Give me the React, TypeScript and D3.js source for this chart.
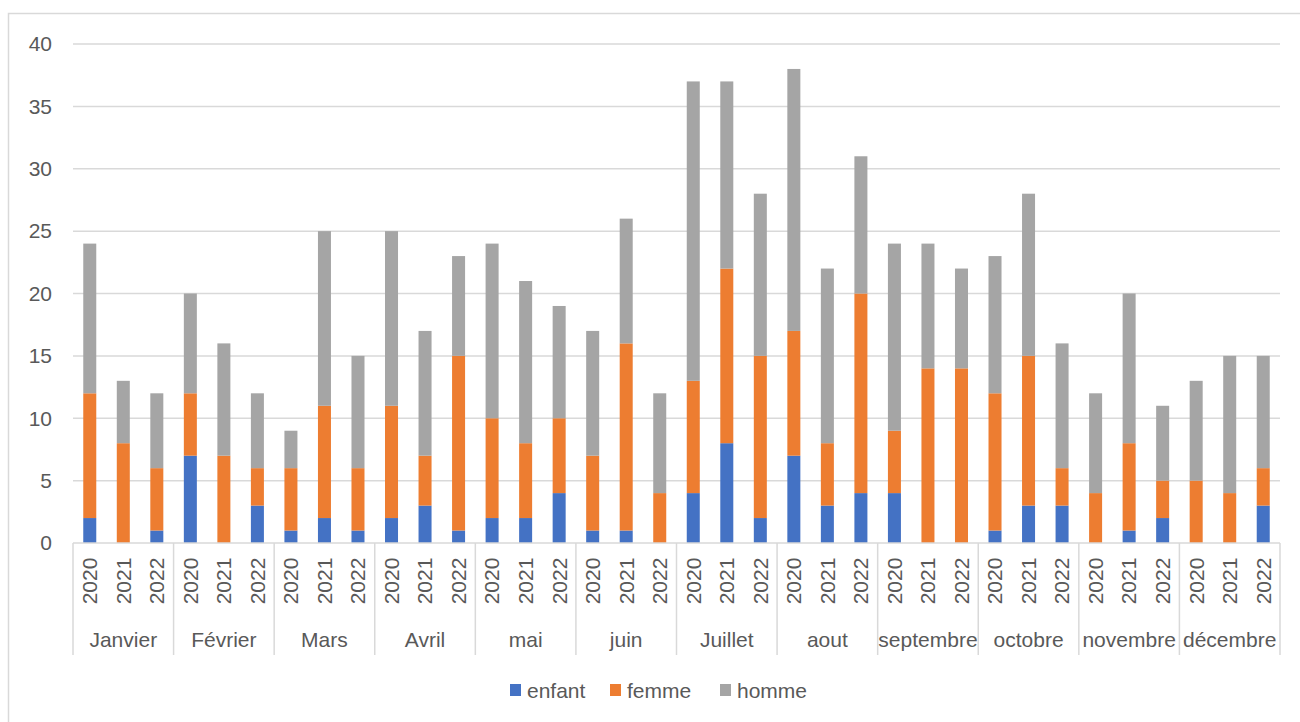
import { useMemo } from 'react'
import * as d3 from 'd3'

// Categories
const months = ['Janvier', 'Février', 'Mars', 'Avril', 'mai', 'juin', 'Juillet', 'aout', 'septembre', 'octobre', 'novembre', 'décembre']
const years = ['2020', '2021', '2022']

// Series values, month by month, 2020 / 2021 / 2022
const enfant = [2, 0, 1, 7, 0, 3, 1, 2, 1, 2, 3, 1, 2, 2, 4, 1, 1, 0, 4, 8, 2, 7, 3, 4, 4, 0, 0, 1, 3, 3, 0, 1, 2, 0, 0, 3]
const femme = [10, 8, 5, 5, 7, 3, 5, 9, 5, 9, 4, 14, 8, 6, 6, 6, 15, 4, 9, 14, 13, 10, 5, 16, 5, 14, 14, 11, 12, 3, 4, 7, 3, 5, 4, 3]
const homme = [12, 5, 6, 8, 9, 6, 3, 14, 9, 14, 10, 8, 14, 13, 9, 10, 10, 8, 24, 15, 13, 21, 14, 11, 15, 10, 8, 11, 13, 10, 8, 12, 6, 8, 11, 9]

const seriesNames = ['enfant', 'femme', 'homme']
const yTicks = [0, 5, 10, 15, 20, 25, 30, 35, 40]

const colors: Record<string, string> = {
  enfant: '#4472C4',
  femme: '#ED7D31',
  homme: '#A5A5A5',
}

const width = 1300
const height = 722
const left = 73
const right = 1280
const top = 44
const bottom = 543
const font = '"Liberation Sans", Arial, sans-serif'
const textColor = '#595959'
const gridColor = '#D9D9D9'

interface Row {
  month: string
  year: string
  enfant: number
  femme: number
  homme: number
}

export default function App() {
  const rows: Row[] = useMemo(() => {
    const out: Row[] = []
    months.forEach((m, i) => {
      years.forEach((yr, j) => {
        const k = i * 3 + j
        out.push({ month: m, year: yr, enfant: enfant[k], femme: femme[k], homme: homme[k] })
      })
    })
    return out
  }, [])

  const x0 = d3.scaleBand().domain(months).range([left, right]).padding(0)
  const x1 = d3.scaleBand().domain(years).range([0, x0.bandwidth()]).paddingInner(0.612).paddingOuter(0.306)
  const y = d3.scaleLinear().domain([0, 40]).range([bottom, top])

  const stacked = d3.stack<Row>().keys(seriesNames)(rows)

  const legend = [
    { name: 'enfant', x: 510 },
    { name: 'femme', x: 610 },
    { name: 'homme', x: 720 },
  ]

  return (
    <svg width={width} height={height} style={{ position: 'absolute', left: 0, top: 0, background: '#fff' }}>
      <rect x={8.5} y={13.5} width={1400} height={800} fill="#fff" stroke={gridColor} strokeWidth={1.5} />

      {/* gridlines */}
      {yTicks.map(t => (
        <g key={t}>
          {t > 0 && (
            <line x1={left} x2={right} y1={y(t)} y2={y(t)} stroke={gridColor} strokeWidth={1.5} />
          )}
          <text x={52} y={y(t)} dy="0.35em" textAnchor="end" fontFamily={font} fontSize={21} fill={textColor}>
            {t}
          </text>
        </g>
      ))}

      {/* bars */}
      {stacked.map(s => (
        <g key={s.key} fill={colors[s.key]}>
          {s.map((d, i) => (
            <rect
              key={i}
              x={(x0(d.data.month) || 0) + (x1(d.data.year) || 0)}
              y={y(d[1])}
              width={x1.bandwidth()}
              height={y(d[0]) - y(d[1])}
            />
          ))}
        </g>
      ))}

      {/* category axis */}
      <line x1={left} x2={right} y1={bottom} y2={bottom} stroke={gridColor} strokeWidth={1.5} />
      {[...months.map(m => x0(m) || 0), right].map((px, i) => (
        <line key={i} x1={px} x2={px} y1={bottom} y2={655} stroke={gridColor} strokeWidth={1.5} />
      ))}
      {rows.map((r, i) => {
        const cx = (x0(r.month) || 0) + (x1(r.year) || 0) + x1.bandwidth() / 2
        return (
          <text
            key={i}
            transform={`translate(${cx},581) rotate(-90)`}
            textAnchor="middle"
            dy="0.35em"
            fontFamily={font}
            fontSize={21}
            fill={textColor}
          >
            {r.year}
          </text>
        )
      })}
      {months.map(m => (
        <text
          key={m}
          x={(x0(m) || 0) + x0.bandwidth() / 2}
          y={647}
          textAnchor="middle"
          fontFamily={font}
          fontSize={21}
          fill={textColor}
        >
          {m}
        </text>
      ))}

      {/* legend */}
      {legend.map(l => (
        <g key={l.name}>
          <rect x={l.x} y={684} width={11} height={12} fill={colors[l.name]} />
          <text x={l.x + 17} y={698} fontFamily={font} fontSize={21} fill={textColor}>
            {l.name}
          </text>
        </g>
      ))}
    </svg>
  )
}
